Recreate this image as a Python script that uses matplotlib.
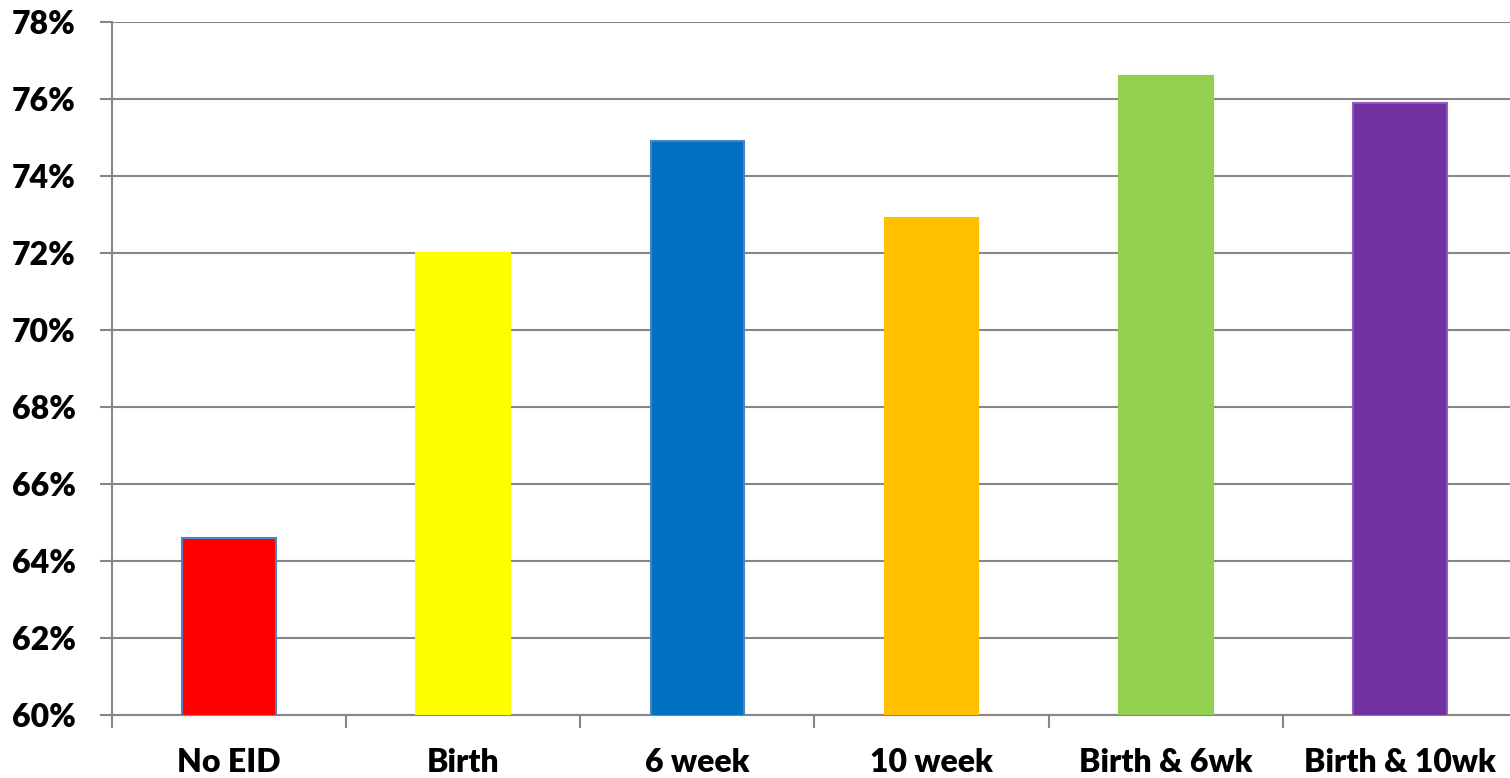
import numpy as np
import matplotlib.pyplot as plt
from matplotlib.ticker import FixedLocator, PercentFormatter

# data
categories = ['No EID', 'Birth', '6 week', '10 week', 'Birth & 6wk', 'Birth & 10wk']
values = [64.6, 72.0, 74.9, 72.9, 76.6, 75.9]
colors = ['#ff0000', '#ffff00', '#0070c0', '#ffc000', '#92d050', '#7030a0']
edges = ['#4f81bd', '#ffff00', '#4f81bd', '#ffc000', '#92d050', '#8e5bb5']

plt.rcParams['font.family'] = ['Lato', 'DejaVu Sans']
plt.rcParams['font.weight'] = 'heavy'

fig = plt.figure(figsize=(15.1, 7.78), dpi=100)
ax = fig.add_axes([0.0742, 0.081, 0.9304, 0.8907])

x = np.arange(len(categories))
ax.bar(x, values, width=0.4, color=colors, edgecolor=edges, linewidth=1.5, zorder=3)

ax.set_ylim(60, 78)
ax.set_xlim(-0.5, len(categories) - 0.5)
ax.set_yticks(np.arange(60, 79, 2))
ax.yaxis.set_major_formatter(PercentFormatter(decimals=0))
ax.yaxis.grid(True, color='#868686', linewidth=1.5, zorder=0)

ax.set_xticks(x)
ax.set_xticklabels(categories)
ax.xaxis.set_minor_locator(FixedLocator(np.arange(-0.5, len(categories), 1.0)))
ax.tick_params(axis='x', which='major', length=0, pad=24, labelsize=23)
ax.tick_params(axis='x', which='minor', length=9, width=1.5, color='#868686')
ax.tick_params(axis='y', length=9, width=1.5, color='#868686', pad=17, labelsize=23)

for s in ['top', 'right']:
    ax.spines[s].set_visible(False)
for s in ['left', 'bottom']:
    ax.spines[s].set_color('#868686')
    ax.spines[s].set_linewidth(1.5)

fig.savefig('out.png', dpi=100)
